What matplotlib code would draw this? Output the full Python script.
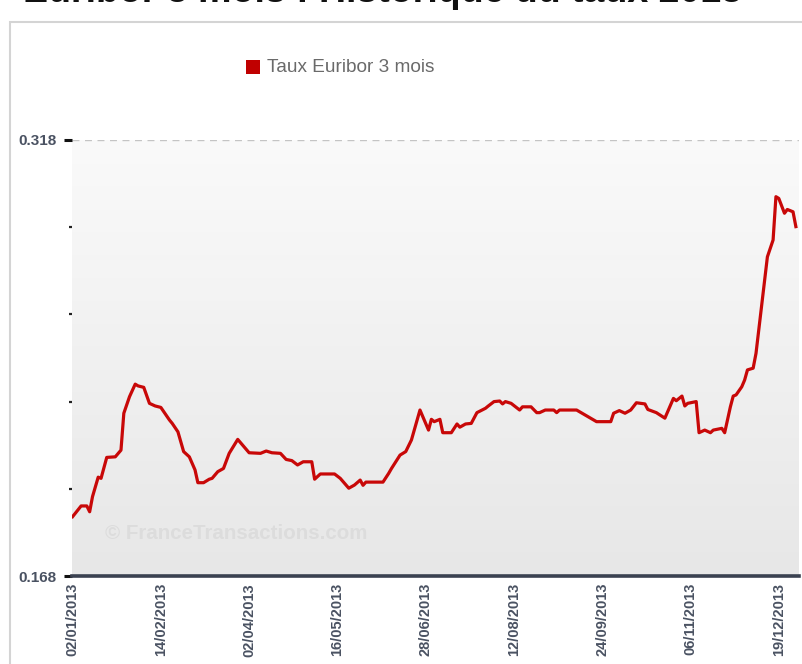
import numpy as np
import matplotlib
matplotlib.use("Agg")
import matplotlib.pyplot as plt
from matplotlib.patches import Rectangle

# ---- data ----
title = "Euribor 3 mois : Historique du taux 2013"
series_name = "Taux Euribor 3 mois"
# trading-day index (0 = 02/01/2013) of each read point
day_index = [0, 3, 5, 6, 7, 9, 10, 12, 15, 17, 18, 20, 22, 23, 25, 27, 29, 31, 34, 35,
             37, 39, 41, 43, 44, 46, 48, 49, 51, 53, 55, 58, 60, 62, 66, 68, 70, 73, 75, 77,
             79, 81, 84, 85, 87, 92, 94, 97, 99, 101, 102, 103, 109, 111, 112, 114, 115, 117, 119, 122,
             125, 126, 127, 129, 130, 133, 135, 136, 138, 140, 142, 145, 146, 148, 150, 151, 152, 154, 157, 158,
             161, 163, 164, 166, 169, 170, 171, 177, 180, 184, 189, 190, 192, 194, 196, 198, 201, 202, 205, 208,
             211, 212, 214, 215, 216, 219, 220, 222, 224, 225, 228, 229, 231, 232, 233, 235, 236, 237, 239, 240,
             244, 246, 247, 248, 250, 251, 253, 254]
rates = [0.1884, 0.1921, 0.1921, 0.1901, 0.1953, 0.2020, 0.2016, 0.2088, 0.2090, 0.2113,
         0.2240, 0.2297, 0.2340, 0.2334, 0.2329, 0.2274, 0.2265, 0.2260, 0.2217, 0.2205,
         0.2176, 0.2108, 0.2090, 0.2045, 0.2001, 0.2001, 0.2013, 0.2016, 0.2039, 0.2050,
         0.2102, 0.2150, 0.2127, 0.2104, 0.2102, 0.2110, 0.2104, 0.2102, 0.2081, 0.2077,
         0.2062, 0.2073, 0.2073, 0.2013, 0.2031, 0.2031, 0.2016, 0.1982, 0.1993, 0.2010,
         0.1992, 0.2003, 0.2003, 0.2033, 0.2050, 0.2081, 0.2096, 0.2108, 0.2148, 0.2251,
         0.2182, 0.2219, 0.2211, 0.2219, 0.2173, 0.2173, 0.2203, 0.2192, 0.2203, 0.2205,
         0.2242, 0.2257, 0.2265, 0.2280, 0.2282, 0.2272, 0.2280, 0.2274, 0.2251, 0.2262,
         0.2262, 0.2242, 0.2242, 0.2251, 0.2251, 0.2242, 0.2251, 0.2251, 0.2234, 0.2211,
         0.2211, 0.2240, 0.2249, 0.2240, 0.2251, 0.2276, 0.2272, 0.2253, 0.2242, 0.2223,
         0.2291, 0.2283, 0.2299, 0.2265, 0.2274, 0.2280, 0.2173, 0.2182, 0.2173, 0.2182,
         0.2188, 0.2173, 0.2262, 0.2299, 0.2303, 0.2331, 0.2354, 0.2389, 0.2395, 0.2446,
         0.2778, 0.2836, 0.2985, 0.2979, 0.2928, 0.2941, 0.2933, 0.2882]
tick_labels = ["02/01/2013", "14/02/2013", "02/04/2013", "16/05/2013", "28/06/2013",
               "12/08/2013", "24/09/2013", "06/11/2013", "19/12/2013"]
tick_step = 31
y_min, y_max = 0.168, 0.318
y_minor = [0.198, 0.228, 0.258, 0.288]

plt.rcParams['font.family'] = ['Liberation Sans', 'DejaVu Sans']

W, H = 803, 664
fig = plt.figure(figsize=(W / 100, H / 100), dpi=100)
fig.patch.set_facecolor('white')

# outer frame
fig.patches.append(Rectangle((10 / W, -0.05), 1.0, (H - 22) / H + 0.05,
                             transform=fig.transFigure, fill=False,
                             edgecolor='#d4d4d4', linewidth=1.5))
# title, mostly cut off by the top edge as in the reference
fig.text(742 / W, (H - 2) / H, title, ha='right', va='baseline',
         fontsize=27, fontweight='bold', color='#111111')

ax = fig.add_axes([72 / W, 88 / H, 727 / W, 436 / H])
x0, x1 = -0.2, 255.1
ax.set_xlim(x0, x1)

# gradient background (light at top, grey at bottom)
grad = np.linspace(0, 1, 256).reshape(-1, 1)
cmap = matplotlib.colors.LinearSegmentedColormap.from_list('bg', ['#fafafa', '#e7e7e7'])
ax.imshow(grad, aspect='auto', cmap=cmap, extent=[x0, x1, y_min, y_max],
          origin='upper', zorder=0)
ax.set_ylim(y_min, y_max)

ax.axhline(y_max, color='#c4c4c4', linestyle=(0, (5, 4)), linewidth=1.0, zorder=1)

ax.text(0.046, 0.085, "\u00a9 FranceTransactions.com", transform=ax.transAxes,
        fontsize=14.8, fontweight='bold', color='#dcdcdc', zorder=1)

ax.plot(day_index, rates, color='#c80808', linewidth=2.3, zorder=3,
        solid_joinstyle='round')

for s in ['top', 'right', 'left']:
    ax.spines[s].set_visible(False)
ax.spines['bottom'].set_color('#3a4150')
ax.spines['bottom'].set_linewidth(2.6)

ax.set_yticks([y_min, y_max])
ax.set_yticklabels([f"{y_min:.3f}", f"{y_max:.3f}"])
ax.set_yticks(y_minor, minor=True)
ax.tick_params(axis='y', which='major', length=6, width=2.2, color='#111111',
               labelsize=11, labelcolor='#4a5262', pad=5)
ax.tick_params(axis='y', which='minor', length=2.5, width=1.6, color='#222222')
for lbl in ax.get_yticklabels():
    lbl.set_fontweight('bold')

ax.set_xticks([i * tick_step for i in range(len(tick_labels))])
ax.set_xticklabels(tick_labels, rotation=90, fontsize=10.5, color='#4a5262',
                   fontweight='bold')
ax.tick_params(axis='x', length=0, pad=5)

# legend
fig.patches.append(Rectangle((246 / W, (H - 74) / H), 14 / W, 14 / H,
                             transform=fig.transFigure, facecolor='#c00000',
                             edgecolor='none'))
fig.text(267 / W, (H - 67) / H, series_name, ha='left', va='center',
         fontsize=13.7, color='#6a6a6a')

fig.savefig('out.png', dpi=100)
